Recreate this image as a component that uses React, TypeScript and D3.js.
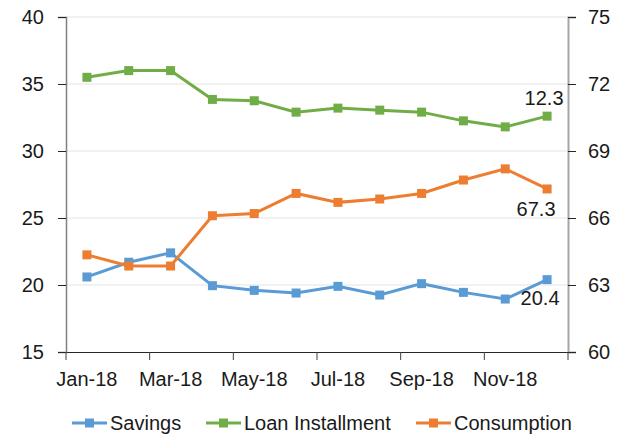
import { useRef, useEffect } from 'react';
import * as d3 from 'd3';

const months = ['Jan-18', 'Feb-18', 'Mar-18', 'Apr-18', 'May-18', 'Jun-18', 'Jul-18', 'Aug-18', 'Sep-18', 'Oct-18', 'Nov-18', 'Dec-18'];
const savings = [20.6, 21.7, 22.4, 19.95, 19.6, 19.4, 19.9, 19.25, 20.1, 19.45, 18.95, 20.4];
const loanInstallment = [35.5, 36.0, 36.0, 33.85, 33.75, 32.9, 33.2, 33.05, 32.9, 32.25, 31.8, 32.6];
const consumption = [64.35, 63.85, 63.85, 66.1, 66.2, 67.1, 66.7, 66.85, 67.1, 67.7, 68.2, 67.3];
const leftTicks = [15, 20, 25, 30, 35, 40];
const rightTicks = [60, 63, 66, 69, 72, 75];
const shownMonths = ['Jan-18', 'Mar-18', 'May-18', 'Jul-18', 'Sep-18', 'Nov-18'];

const FONT = '"Liberation Sans", Arial, sans-serif';

export default function App() {
  const svgRef = useRef<SVGSVGElement | null>(null);

  useEffect(() => {
    const width = 629, height = 435;
    const margin = { top: 17, right: 61, bottom: 83, left: 66 };
    const svg = d3.select(svgRef.current).attr('width', width).attr('height', height);
    svg.selectAll('*').remove();

    const x = d3.scaleBand().domain(months).range([margin.left, width - margin.right]).paddingInner(0).paddingOuter(0);
    const yL = d3.scaleLinear().domain([15, 40]).range([height - margin.bottom, margin.top]);
    const yR = d3.scaleLinear().domain([60, 75]).range([height - margin.bottom, margin.top]);
    const cx = (m: string) => (x(m) as number) + x.bandwidth() / 2;

    // gridlines
    svg.append('g').selectAll('line').data(leftTicks.slice(1)).enter().append('line')
      .attr('x1', margin.left).attr('x2', width - margin.right)
      .attr('y1', d => yL(d)).attr('y2', d => yL(d))
      .attr('stroke', '#e3e3e3').attr('stroke-width', 1);

    // left axis
    const gl = svg.append('g').attr('transform', `translate(${margin.left},0)`)
      .call(d3.axisLeft(yL).tickValues(leftTicks).tickSize(8).tickPadding(14));
    gl.select('.domain').attr('stroke', '#808080').attr('stroke-width', 1.5);
    gl.selectAll('.tick line').attr('stroke', '#262626');
    gl.selectAll('text').attr('font-family', FONT).attr('font-size', 20).attr('fill', '#1a1a1a');

    // right axis
    const gr = svg.append('g').attr('transform', `translate(${width - margin.right},0)`)
      .call(d3.axisRight(yR).tickValues(rightTicks).tickSize(8).tickPadding(12));
    gr.select('.domain').attr('stroke', '#a6a6a6').attr('stroke-width', 2);
    gr.selectAll('.tick line').attr('stroke', '#262626');
    gr.selectAll('text').attr('font-family', FONT).attr('font-size', 20).attr('fill', '#1a1a1a');

    // bottom axis
    const gb = svg.append('g').attr('transform', `translate(0,${height - margin.bottom})`)
      .call(d3.axisBottom(x).tickValues(shownMonths).tickSize(0).tickPadding(20));
    gb.select('.domain').attr('stroke', '#262626');
    gb.selectAll('text').attr('font-family', FONT).attr('font-size', 20).attr('fill', '#1a1a1a');
    const boundaries = months.filter((_, i) => i % 2 === 0).map(m => x(m) as number).concat([width - margin.right]);
    gb.selectAll('.bt').data(boundaries).enter().append('line').attr('class', 'bt')
      .attr('x1', d => d).attr('x2', d => d).attr('y1', 0).attr('y2', 8)
      .attr('stroke', '#404040');

    const series = [
      { name: 'Savings', values: savings, y: yL, color: '#5b9bd5' },
      { name: 'Loan Installment', values: loanInstallment, y: yL, color: '#70ad47' },
      { name: 'Consumption', values: consumption, y: yR, color: '#ed7d31' },
    ];

    series.forEach(s => {
      const line = d3.line<number>().x((_, i) => cx(months[i])).y(d => s.y(d));
      svg.append('path').datum(s.values).attr('d', line)
        .attr('fill', 'none').attr('stroke', s.color).attr('stroke-width', 3);
      svg.append('g').selectAll('rect').data(s.values).enter().append('rect')
        .attr('x', (_, i) => cx(months[i]) - 4.5).attr('y', d => s.y(d) - 4.5)
        .attr('width', 9).attr('height', 9).attr('fill', s.color);
    });

    // data labels on the last point
    const last = months.length - 1;
    const lastX = cx(months[last]);
    const labels = [
      { text: '12.3', x: lastX - 3, y: yL(loanInstallment[last]) - 11 },
      { text: '67.3', x: lastX - 11, y: yR(consumption[last]) + 27 },
      { text: '20.4', x: lastX - 7, y: yL(savings[last]) + 25 },
    ];
    svg.append('g').selectAll('text').data(labels).enter().append('text')
      .attr('x', d => d.x).attr('y', d => d.y).attr('text-anchor', 'middle')
      .attr('font-family', FONT).attr('font-size', 20).attr('fill', '#1a1a1a')
      .text(d => d.text);

    // legend
    const legendY = 423;
    const legendX = [72, 206, 416];
    const lg = svg.append('g');
    series.forEach((s, i) => {
      const g = lg.append('g').attr('transform', `translate(${legendX[i]},${legendY})`);
      g.append('line').attr('x1', 0).attr('x2', 35).attr('y1', 0).attr('y2', 0)
        .attr('stroke', s.color).attr('stroke-width', 3);
      g.append('rect').attr('x', 13).attr('y', -4.5).attr('width', 9).attr('height', 9).attr('fill', s.color);
      g.append('text').attr('x', 38).attr('y', 7).attr('font-family', FONT).attr('font-size', 20)
        .attr('fill', '#1a1a1a').text(s.name);
    });
  }, []);

  return <svg ref={svgRef} style={{ position: 'absolute', left: 0, top: 0 }} />;
}
